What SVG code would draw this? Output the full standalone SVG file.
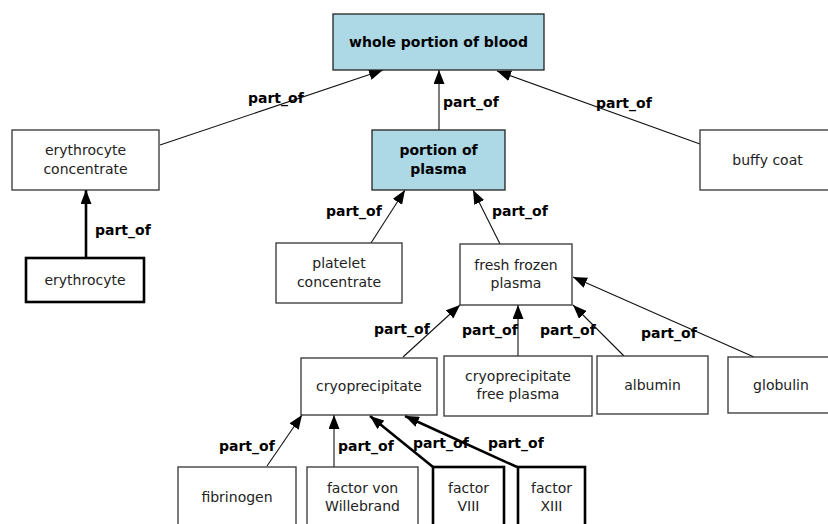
<svg xmlns="http://www.w3.org/2000/svg" width="828" height="524" viewBox="0 0 828 524">
<style>
.n{fill:#fff;stroke:#333;stroke-width:1.3}
.hl{fill:#add8e6;stroke:#222;stroke-width:1.3}
.tk{fill:#fff;stroke:#000;stroke-width:2.6}
.t{font-family:"DejaVu Sans",sans-serif;font-size:14px;fill:#222;text-anchor:middle}
.b{font-weight:bold;fill:#000}
.e{stroke:#111;stroke-width:1.1;fill:none;marker-end:url(#ah)}
.ek{stroke:#000;stroke-width:2.6;fill:none;marker-end:url(#ah)}
.l{font-family:"DejaVu Sans",sans-serif;font-size:14px;font-weight:bold;fill:#000}
</style>
<defs>
<marker id="ah" markerUnits="userSpaceOnUse" markerWidth="15" markerHeight="11" refX="14" refY="5.5" orient="auto">
<path d="M0,0 L14,5.5 L0,11 z" fill="#000"/>
</marker>
</defs>
<rect width="828" height="524" fill="#fff"/>
<g id="connectors">
<line class="e" x1="160" y1="145" x2="383" y2="70"/>
<line class="e" x1="439" y1="130" x2="439" y2="70"/>
<line class="e" x1="700" y1="144" x2="497" y2="71"/>
<line class="ek" x1="86" y1="258" x2="86" y2="190"/>
<line class="e" x1="371" y1="243" x2="405" y2="190"/>
<line class="e" x1="500" y1="244" x2="473" y2="190"/>
<line class="e" x1="403" y1="357" x2="460" y2="305"/>
<line class="e" x1="518" y1="356" x2="518" y2="305"/>
<line class="e" x1="624" y1="356" x2="573" y2="305"/>
<line class="e" x1="754" y1="357" x2="573" y2="277"/>
<line class="e" x1="267" y1="466" x2="302" y2="415"/>
<line class="e" x1="334" y1="467" x2="334" y2="415"/>
<line class="ek" x1="433" y1="467" x2="370" y2="416"/>
<line class="ek" x1="517" y1="467" x2="405" y2="416"/>
<text class="l" x="248" y="103">part_of</text>
<text class="l" x="443" y="107">part_of</text>
<text class="l" x="596" y="108">part_of</text>
<text class="l" x="95" y="235">part_of</text>
<text class="l" x="326" y="216">part_of</text>
<text class="l" x="492" y="216">part_of</text>
<text class="l" x="374" y="334">part_of</text>
<text class="l" x="462" y="335">part_of</text>
<text class="l" x="540" y="335">part_of</text>
<text class="l" x="641" y="338">part_of</text>
<text class="l" x="219" y="451">part_of</text>
<text class="l" x="338" y="451">part_of</text>
<text class="l" x="413" y="448">part_of</text>
<text class="l" x="488" y="448">part_of</text>
</g>
<g id="whole">
<rect class="hl" x="333" y="14" width="211" height="56"/>
<text class="t b" x="438.5" y="47">whole portion of blood</text>
</g>
<g id="erythrocyte_concentrate">
<rect class="n" x="12" y="130" width="147" height="60"/>
<text class="t" x="85.5" y="155">erythrocyte</text>
<text class="t" x="85.5" y="174">concentrate</text>
</g>
<g id="portion_of_plasma">
<rect class="hl" x="372" y="130" width="133" height="60"/>
<text class="t b" x="438.5" y="155">portion of</text>
<text class="t b" x="438.5" y="174">plasma</text>
</g>
<g id="buffy_coat">
<rect class="n" x="700" y="130" width="135" height="60"/>
<text class="t" x="767.5" y="165">buffy coat</text>
</g>
<g id="erythrocyte">
<rect class="tk" x="26" y="258" width="118" height="44"/>
<text class="t" x="85" y="285">erythrocyte</text>
</g>
<g id="platelet_concentrate">
<rect class="n" x="276" y="243" width="126" height="60"/>
<text class="t" x="339" y="268">platelet</text>
<text class="t" x="339" y="287">concentrate</text>
</g>
<g id="fresh_frozen_plasma">
<rect class="n" x="460" y="244" width="112" height="61"/>
<text class="t" x="516" y="270">fresh frozen</text>
<text class="t" x="516" y="288">plasma</text>
</g>
<g id="cryoprecipitate">
<rect class="n" x="301" y="358" width="136" height="57"/>
<text class="t" x="369" y="391">cryoprecipitate</text>
</g>
<g id="cryoprecipitate_free_plasma">
<rect class="n" x="444" y="356" width="148" height="60"/>
<text class="t" x="518" y="381">cryoprecipitate</text>
<text class="t" x="518" y="399">free plasma</text>
</g>
<g id="albumin">
<rect class="n" x="597" y="356" width="111" height="58"/>
<text class="t" x="652.5" y="390">albumin</text>
</g>
<g id="globulin">
<rect class="n" x="728" y="357" width="106" height="56"/>
<text class="t" x="781" y="390">globulin</text>
</g>
<g id="fibrinogen">
<rect class="n" x="178" y="467" width="118" height="62"/>
<text class="t" x="237" y="502">fibrinogen</text>
</g>
<g id="factor_von_willebrand">
<rect class="n" x="307" y="467" width="111" height="62"/>
<text class="t" x="362.5" y="493">factor von</text>
<text class="t" x="362.5" y="511">Willebrand</text>
</g>
<g id="factor_viii">
<rect class="tk" x="433" y="467" width="71" height="62"/>
<text class="t" x="468.5" y="493">factor</text>
<text class="t" x="468.5" y="511">VIII</text>
</g>
<g id="factor_xiii">
<rect class="tk" x="518" y="467" width="67" height="62"/>
<text class="t" x="551.5" y="493">factor</text>
<text class="t" x="551.5" y="511">XIII</text>
</g>
</svg>
